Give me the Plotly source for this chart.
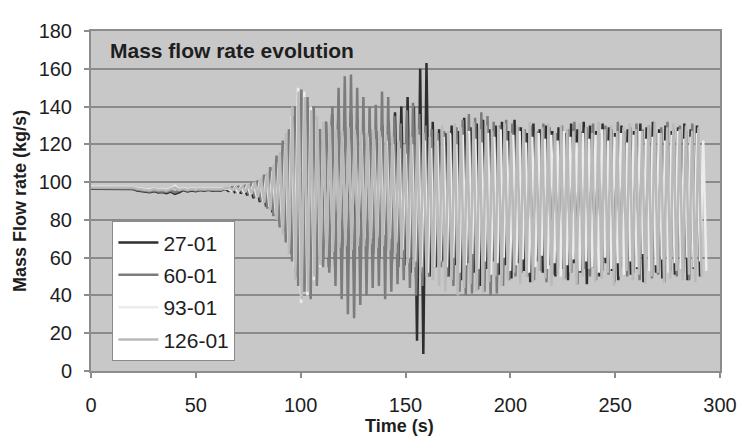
import plotly.graph_objects as go

# ---------------- data ----------------
series_names = ["27-01", "60-01", "93-01", "126-01"]

# steady phase, common sample times (s)
pre_time = [0, 5, 10, 15, 20, 22, 24, 26, 28, 30, 32, 34, 36, 38, 40, 42, 44, 46, 48, 50, 52, 54, 56, 58, 60, 62]

pre_27 = [96.5, 96.5, 96.5, 96.5, 96.3, 95.5, 95.2, 95.0, 94.6, 95.2, 94.5, 94.8, 94.2, 95.0, 93.8, 94.6, 95.8, 95.0, 95.6, 95.2, 95.8, 95.5, 95.9, 95.4, 95.7, 95.6]
pre_60 = [96.8, 96.8, 96.8, 96.8, 96.6, 96.0, 95.6, 95.4, 95.0, 95.6, 95.0, 95.2, 94.8, 95.5, 94.5, 95.4, 96.2, 95.5, 96.0, 95.6, 96.1, 95.8, 96.2, 95.8, 96.0, 96.0]
pre_93 = [97.5, 97.5, 97.5, 97.5, 97.4, 96.8, 96.4, 96.2, 96.0, 96.6, 96.0, 96.3, 95.8, 96.6, 98.0, 96.2, 96.8, 96.2, 96.6, 96.3, 96.8, 96.4, 96.8, 96.5, 96.6, 96.5]
pre_126 = [97.2, 97.2, 97.2, 97.2, 97.1, 96.5, 96.1, 95.9, 95.6, 96.3, 95.7, 96.0, 95.5, 96.3, 97.2, 95.9, 96.5, 95.9, 96.3, 96.0, 96.5, 96.1, 96.5, 96.2, 96.3, 96.2]

# oscillating phase: one peak and one trough per cycle
osc_start = 64.0      # s
half_period = {"27-01": 1.5, "60-01": 1.48, "93-01": 1.51, "126-01": 1.49}
phase_shift = {"27-01": 0.0, "60-01": 0.8, "93-01": 1.5, "126-01": 2.2}

peaks_27 = [96.5, 96.8, 97, 97.5, 98, 99, 100, 102, 104, 108, 118,
            135, 138, 130, 125, 128, 132, 136, 137, 134, 136,
            133, 130, 128, 127, 130, 132, 137, 140, 145,
            140, 160, 163,
            132, 128, 126, 130, 127, 134, 129, 131, 133, 128,
            130, 132, 127, 133, 129, 126, 131, 128, 130, 127,
            129, 126, 131, 128, 132, 130, 127, 131, 129, 126,
            130, 128, 127, 131, 129, 132, 128, 130, 127, 129,
            131, 128, 130]
troughs_27 = [95.3, 94.8, 94, 93, 91.5, 89.5, 87, 84, 80, 74, 62,
              50, 48, 55, 58, 56, 55, 54, 53, 56, 54,
              57, 60, 62, 60, 58, 57, 55, 56, 52,
              16, 9, 50,
              55, 58, 50, 56, 48, 57, 52, 45, 54, 58,
              51, 56, 49, 57, 53, 47, 58, 52, 56, 50,
              54, 48, 57, 52, 46, 55, 50, 57, 53, 48,
              56, 51, 54, 47, 57, 52, 49, 55, 51, 56,
              48, 54, 50]

peaks_60 = [96.8, 97.2, 97.8, 98.5, 99.5, 101, 104, 108, 114, 122, 128,
            140, 149, 145, 140, 128, 132, 140, 150, 156, 157,
            150, 145, 140, 141, 148, 145, 135, 131, 138, 142, 136, 130,
            128, 126, 127, 125, 129, 133, 136, 134, 137, 135,
            132, 130, 133, 131, 129, 128, 130, 127, 131, 129,
            126, 130, 128, 132, 127, 129, 131, 126, 130, 128,
            132, 127, 129, 131, 128, 130, 126, 129, 132, 128,
            130, 127, 131]
troughs_60 = [95.6, 95.2, 94.5, 93.5, 92, 90, 86, 82, 76, 68, 58,
              45, 42, 38, 45, 55, 52, 45, 38, 30, 28,
              35, 40, 44, 45, 38, 42, 46, 48, 44, 40, 45, 50,
              55, 55, 50, 45, 42, 40, 41, 43, 42, 40,
              41, 45, 48, 50, 52, 50, 48, 53, 47, 51,
              55, 49, 52, 46, 54, 50, 48, 53, 51, 47,
              55, 50, 52, 48, 54, 49, 51, 47, 53, 50,
              52, 48, 54]

peaks_93 = [96.5, 97, 97.5, 98.5, 99.5, 101, 103, 106, 111, 120, 135,
            150, 148, 140, 133, 128, 124, 123, 124, 125, 125,
            125, 124, 123, 124, 122, 120, 118, 115, 120, 125, 122, 118,
            122, 124, 126, 120, 125, 127, 123, 121, 126, 124,
            128, 122, 125, 127, 121, 124, 126, 123, 125, 122,
            127, 124, 121, 126, 123, 125, 128, 122, 124, 126,
            121, 125, 127, 123, 124, 126, 122, 125, 127, 123,
            124, 126, 122]
troughs_93 = [95.5, 95, 94.5, 93.5, 92, 90, 87, 83, 77, 68, 55,
              36, 40, 48, 55, 62, 66, 68, 70, 72, 71,
              70, 70, 71, 72, 70, 68, 64, 60, 58, 55, 52, 55,
              58, 55, 60, 52, 56, 62, 54, 58, 51, 57,
              60, 53, 56, 59, 52, 55, 61, 54, 57, 50,
              56, 59, 53, 58, 55, 52, 60, 54, 57, 51,
              58, 55, 62, 53, 56, 59, 52, 57, 54, 60,
              55, 58, 53]

peaks_126 = [97, 97.3, 97.8, 98.8, 100, 102, 105, 109, 116, 126, 140,
             148, 145, 138, 135, 132, 130, 128, 127, 129, 128,
             127, 126, 128, 127, 125, 124, 122, 120, 124, 128, 126, 124,
             128, 130, 127, 131, 129, 126, 132, 128, 130, 127,
             129, 131, 126, 130, 128, 132, 127, 129, 131, 126,
             130, 128, 127, 131, 129, 126, 132, 128, 130, 127,
             129, 131, 128, 127, 130, 132, 126, 129, 131, 128,
             130, 127, 129]
troughs_126 = [95.8, 95.4, 94.8, 93.8, 92, 89, 85, 80, 72, 62, 48,
               38, 42, 50, 56, 60, 63, 65, 66, 64, 66,
               66, 67, 65, 66, 64, 62, 60, 57, 55, 52, 50, 48,
               45, 42, 48, 40, 44, 46, 42, 41, 47, 50,
               45, 48, 52, 46, 50, 47, 53, 49, 45, 51,
               48, 52, 46, 50, 54, 47, 49, 52, 45, 50,
               53, 48, 51, 46, 50, 52, 47, 49, 53, 48,
               51, 47, 50]

series_pre = {"27-01": pre_27, "60-01": pre_60, "93-01": pre_93, "126-01": pre_126}
series_peaks = {"27-01": peaks_27, "60-01": peaks_60, "93-01": peaks_93, "126-01": peaks_126}
series_troughs = {"27-01": troughs_27, "60-01": troughs_60, "93-01": troughs_93, "126-01": troughs_126}

colors = {"27-01": "#2e2e2e", "60-01": "#7c7c7c", "93-01": "#ececec", "126-01": "#bababa"}

# ---------------- figure ----------------
fig = go.Figure()
for name in series_names:
    xs = list(pre_time)
    ys = list(series_pre[name])
    hp = half_period[name]
    for c, (pk, tr) in enumerate(zip(series_peaks[name], series_troughs[name])):
        t0 = osc_start + phase_shift[name] + 2 * hp * c
        xs += [t0, t0 + hp]
        ys += [pk, tr]
    fig.add_trace(go.Scatter(x=xs, y=ys, mode="lines", name=name, legendgroup=name,
                             line=dict(color=colors[name], width=2.5)))

FONT = "Liberation Sans, Arial, sans-serif"
# the page body has an 8 px default margin; the figure is sized so that the
# plot area lands where the reference has it
fig.update_layout(
    width=741, height=433,
    margin=dict(l=83, r=19, t=14, b=70),
    paper_bgcolor="white", plot_bgcolor="#c8c8c8",
    font=dict(family=FONT, size=20, color="#1e1e1e"),
    showlegend=True,
    legend=dict(x=0.034, y=0.44, xanchor="left", yanchor="top",
                bgcolor="white", bordercolor="#8a8a8a", borderwidth=1,
                font=dict(size=21, color="#1e1e1e"), tracegroupgap=2,
                itemwidth=40),
    xaxis=dict(range=[0, 300], tickvals=[0, 50, 100, 150, 200, 250, 300],
               showgrid=False, zeroline=False, showline=True, linecolor="#8c8c8c",
               linewidth=2, mirror=True, ticks="outside", ticklen=5, tickwidth=1.5,
               tickcolor="#8c8c8c", ticklabelstandoff=10,
               tickfont=dict(size=20)),
    yaxis=dict(range=[0, 180], tickvals=[0, 20, 40, 60, 80, 100, 120, 140, 160, 180],
               showgrid=True, gridcolor="#8a8a8a", gridwidth=1.5, zeroline=False,
               showline=True, linecolor="#8c8c8c", linewidth=2, mirror=True,
               ticks="outside", ticklen=5, tickwidth=1.5, tickcolor="#8c8c8c",
               ticklabelstandoff=8, tickfont=dict(size=20)),
    annotations=[
        dict(text="<b>Mass flow rate evolution</b>", xref="paper", yref="paper",
             x=0.027, y=0.943, xanchor="left", yanchor="middle", showarrow=False,
             font=dict(size=21, color="#1e1e1e")),
        dict(text="<b>Mass Flow rate (kg/s)</b>", xref="paper", yref="paper",
             x=-0.113, y=0.5, xanchor="center", yanchor="middle", textangle=-90,
             showarrow=False, font=dict(size=18, color="#1e1e1e")),
        dict(text="<b>Time (s)</b>", xref="paper", yref="paper",
             x=0.491, y=-0.163, xanchor="center", yanchor="middle",
             showarrow=False, font=dict(size=18, color="#1e1e1e")),
    ],
)

fig.write_html("out.html")
